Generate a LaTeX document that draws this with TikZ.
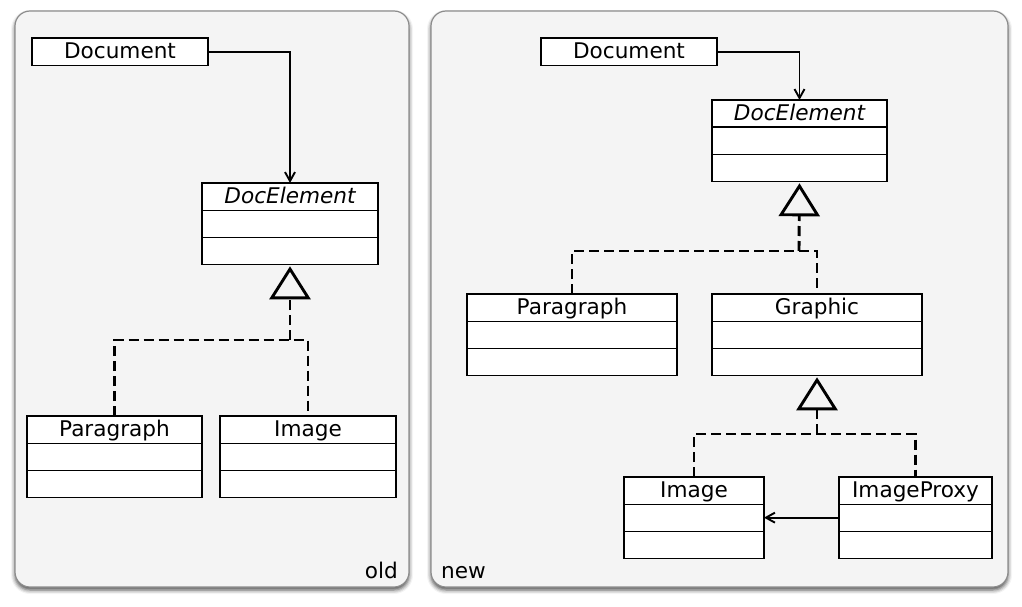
\documentclass[tikz,border=0pt]{standalone}
\usepackage{fontspec}
\setmainfont{DejaVu Sans}
\usepackage{xcolor}
\usetikzlibrary{shapes.multipart,arrows.meta,shadows.blur}
\definecolor{panelfill}{HTML}{F4F4F4}
\definecolor{panelline}{HTML}{8C8C8C}
\newcommand{\umlrow}{\rule[-6.3pt]{0pt}{27.3pt}}
\newcommand{\umlpart}{\rule[-6pt]{0pt}{25.9pt}}

\begin{document}
\begin{tikzpicture}[x=1pt,y=-1pt,
		panel/.style={draw=panelline,line width=1.2pt,fill=panelfill,rounded corners=15pt,
			blur shadow={shadow xshift=0pt,shadow yshift=-3pt,shadow blur radius=4pt,shadow opacity=70}},
		umlbox/.style={draw,line width=1.2pt,fill=white,inner sep=0pt,outer sep=0pt,anchor=north west,
			font=\fontsize{21.6pt}{26pt}\selectfont},
		umlclass/.style={umlbox,rectangle split,rectangle split parts=3},
		assoc/.style={line width=1.9pt,-{Straight Barb[length=9pt,width=10pt]}},
		realize/.style={line width=2.9pt,dash pattern=on 10pt off 5pt},
		gen/.style={realize,-{Triangle[open,length=33pt,width=41pt]},shorten >=2pt},
		tag/.style={inner sep=0pt,font=\fontsize{21.6pt}{26pt}\selectfont}]
			\useasboundingbox (0,0) rectangle (1022,607);
			% the two panels
			\draw[panel] (15,11) rectangle (409,587);
			\draw[panel] (431,11) rectangle (1008,587);
			\node[tag,anchor=base east] (oldtag) at (398,578) {old};
			\node[tag,anchor=base west] (newtag) at (441,578) {new};
			% old
			\node[umlbox,minimum width=176pt] (docL) at (32,38) {\umlrow Document};
			\node[umlclass,minimum width=176pt] (elemL) at (202,183) {\umlpart\itshape DocElement\nodepart{two}\umlpart\nodepart{three}\umlpart};
			\node[umlclass,minimum width=175pt] (paraL) at (27,416) {\umlpart Paragraph\nodepart{two}\umlpart\nodepart{three}\umlpart};
			\node[umlclass,minimum width=176pt] (imgL) at (220,416) {\umlpart Image\nodepart{two}\umlpart\nodepart{three}\umlpart};
			\coordinate (jL) at (290,340);
			\draw[assoc] (docL.east) -| (elemL.north);
			\draw[realize] (paraL.north) |- (jL) -| (imgL.north);
			\draw[gen] (jL) -- (elemL.south);
			% new
			\node[umlbox,minimum width=176pt] (docR) at (541,38) {\umlrow Document};
			\node[umlclass,minimum width=175pt] (elemR) at (712,100) {\umlpart\itshape DocElement\nodepart{two}\umlpart\nodepart{three}\umlpart};
			\node[umlclass,minimum width=210pt] (paraR) at (467,294) {\umlpart Paragraph\nodepart{two}\umlpart\nodepart{three}\umlpart};
			\node[umlclass,minimum width=210pt] (graphR) at (712,294) {\umlpart Graphic\nodepart{two}\umlpart\nodepart{three}\umlpart};
			\node[umlclass,minimum width=140pt] (imgR) at (624,477) {\umlpart Image\nodepart{two}\umlpart\nodepart{three}\umlpart};
			\node[umlclass,minimum width=153pt] (proxyR) at (839,477) {\umlpart ImageProxy\nodepart{two}\umlpart\nodepart{three}\umlpart};
			\coordinate (jR) at (799,251);
			\coordinate (kR) at (817,434);
			\draw[assoc] (docR.east) -| (elemR.north);
			\draw[realize] (paraR.north) |- (jR) -| (graphR.north);
			\draw[gen] (jR) -- (elemR.south);
			\draw[realize] (imgR.north) |- (kR) -| (proxyR.north);
			\draw[gen] (kR) -- (graphR.south);
			\draw[assoc] (proxyR.west) -- (imgR.east);
		\end{tikzpicture}
\end{document}
